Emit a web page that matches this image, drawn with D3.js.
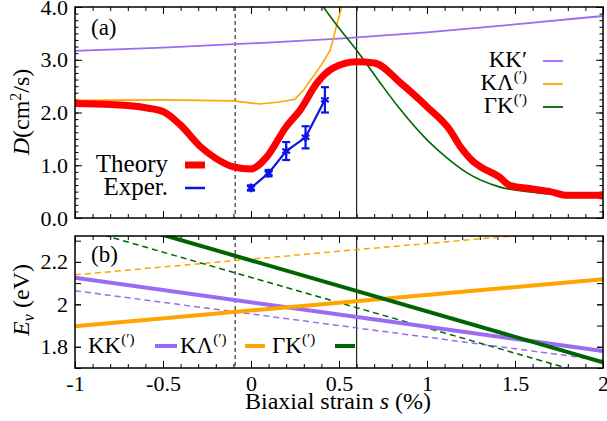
<!DOCTYPE html>
<html><head><meta charset="utf-8">
<script src="https://cdn.jsdelivr.net/npm/d3@7"></script>
<style>
html,body{margin:0;padding:0;background:#fff;}
svg text{font-family:"Liberation Serif","Tinos","Times New Roman","DejaVu Serif","Noto Serif",serif !important;}
</style></head>
<body>
<svg id="chart" width="607" height="421"></svg>
<script>
// ---------------- DATA ----------------
const theoryS = [-1, -0.8, -0.6, -0.5, -0.4, -0.29, -0.2, -0.1, 0, 0.09, 0.2, 0.28, 0.375, 0.466, 0.6, 0.7, 0.85, 1.0, 1.13, 1.19, 1.26, 1.3, 1.41, 1.47, 1.6, 1.7, 1.8, 2.0];
const theoryD = [2.17, 2.15, 2.09, 2.02, 1.76, 1.36, 1.13, 0.97, 0.93, 1.16, 1.73, 2.05, 2.56, 2.84, 2.96, 2.94, 2.56, 2.11, 1.67, 1.35, 1.08, 0.98, 0.78, 0.62, 0.55, 0.5, 0.43, 0.43];

const kkS = [-1, -0.5, 0, 0.5, 1.0, 1.5, 2.0];
const kkD = [3.17, 3.23, 3.31, 3.40, 3.52, 3.67, 3.83];

const klS = [-1, -0.5, -0.1, 0.05, 0.16, 0.25, 0.3, 0.35, 0.4, 0.45, 0.47, 0.49, 0.52];
const klD = [2.23, 2.24, 2.22, 2.16, 2.20, 2.25, 2.43, 2.67, 2.90, 3.18, 3.43, 3.70, 4.05];

const gkS = [0.4, 0.5, 0.6, 0.73, 0.85, 1.0, 1.12, 1.23, 1.41, 1.6, 1.8, 2.0];
const gkD = [4.05, 3.6, 3.18, 2.58, 2.05, 1.48, 1.12, 0.85, 0.59, 0.49, 0.44, 0.42];

const expS = [0, 0.1, 0.2, 0.31, 0.42];
const expD = [0.57, 0.85, 1.27, 1.53, 2.24];
const expErr = [0.05, 0.06, 0.17, 0.21, 0.24];

// panel (b): valley energies
const evS = [-1, 0.5, 2];
const evKK = [2.125, 1.952, 1.78];
const evKKd = [2.064, 1.900, 1.736];
const evKL = [1.897, 2.008, 2.118];
const evKLd = [2.139, 2.250, 2.360];
const evGK = [2.447, 2.087, 1.727];
const evGKd = [2.365, 2.008, 1.651];

const markerStrain = [-0.09, 0.6];   // dashed, solid guide lines

const xTicksMajor = [-1, -0.5, 0, 0.5, 1, 1.5, 2];
const xTickLabels = ["-1", "-0.5", "0", "0.5", "1", "1.5", "2"];
const yaTicks = [0, 1, 2, 3, 4];
const yaTickLabels = ["0.0", "1.0", "2.0", "3.0", "4.0"];
const ybTicks = [1.8, 2.0, 2.2];
const ybTickLabels = ["1.8", "2", "2.2"];

// ---------------- LAYOUT ----------------
const FONT = '"Liberation Serif", Tinos, "Times New Roman", "DejaVu Serif", serif';
const colPurple = "#9b6cf2", colOrange = "#ffa500", colGreen = "#006400", colRed = "#ff0000", colBlue = "#0a14e6";
const svg = d3.select("#chart").attr("font-family", FONT);
const L = 75, R = 603;
const aT = 7, aB = 218, bT = 236, bB = 368;

const x = d3.scaleLinear().domain([-1, 2]).range([L, R]);
const ya = d3.scaleLinear().domain([0, 4]).range([aB, aT]);
const yb = d3.scaleLinear().domain([1.70, 2.322]).range([bB, bT]);

const defs = svg.append("defs");
defs.append("clipPath").attr("id", "clipA").append("rect").attr("x", L).attr("y", aT).attr("width", R - L).attr("height", aB - aT);
defs.append("clipPath").attr("id", "clipB").append("rect").attr("x", L).attr("y", bT).attr("width", R - L).attr("height", bB - bT);

const range = (a, b, st) => d3.range(Math.round(a / st), Math.round(b / st) + 1).map(i => +(i * st).toFixed(4));
const xMinor = range(-1, 2, 0.1);
const yaMinor = range(0, 4, 0.125);
const ybMinor = range(1.7, 2.3, 0.1);

function ticks(g, axisFn, scale, vals, size) {
  g.call(axisFn(scale).tickValues(vals).tickSize(size).tickFormat(""))
   .call(s => s.select(".domain").remove())
   .selectAll("line").attr("stroke", "#000").attr("stroke-width", 1);
}

function panel(y, top, bottom, minorY, majorY, majorYLabels, minorYLen, majorYLen, withXLabels) {
  ticks(svg.append("g").attr("transform", `translate(0,${bottom})`), d3.axisBottom, x, xMinor, -4);
  ticks(svg.append("g").attr("transform", `translate(0,${bottom})`), d3.axisBottom, x, xTicksMajor, -7);
  ticks(svg.append("g").attr("transform", `translate(0,${top})`), d3.axisTop, x, xMinor, -4);
  ticks(svg.append("g").attr("transform", `translate(0,${top})`), d3.axisTop, x, xTicksMajor, -7);
  ticks(svg.append("g").attr("transform", `translate(${L},0)`), d3.axisLeft, y, minorY, -minorYLen);
  ticks(svg.append("g").attr("transform", `translate(${L},0)`), d3.axisLeft, y, majorY, -majorYLen);
  ticks(svg.append("g").attr("transform", `translate(${R},0)`), d3.axisRight, y, minorY, -minorYLen);
  ticks(svg.append("g").attr("transform", `translate(${R},0)`), d3.axisRight, y, majorY, -majorYLen);
  const yl = svg.append("g").attr("transform", `translate(${L},0)`)
    .call(d3.axisLeft(y).tickValues(majorY).tickSize(0).tickPadding(7).tickFormat((d, i) => majorYLabels[i]));
  yl.attr("font-family", FONT).attr("font-size", 22);
  yl.select(".domain").remove();
  yl.selectAll("text").attr("fill", "#000");
  if (withXLabels) {
    const xl = svg.append("g").attr("transform", `translate(0,${bottom})`)
      .call(d3.axisBottom(x).tickValues(xTicksMajor).tickSize(0).tickPadding(7).tickFormat((d, i) => xTickLabels[i]));
    xl.attr("font-family", FONT).attr("font-size", 22);
    xl.select(".domain").remove();
    xl.selectAll("text").attr("fill", "#000");
  }
  svg.append("line").attr("x1", x(markerStrain[0])).attr("x2", x(markerStrain[0])).attr("y1", top).attr("y2", bottom)
    .attr("stroke", "#333").attr("stroke-width", 1.2).attr("stroke-dasharray", "4,3");
  svg.append("line").attr("x1", x(markerStrain[1])).attr("x2", x(markerStrain[1])).attr("y1", top).attr("y2", bottom)
    .attr("stroke", "#222").attr("stroke-width", 1.2);
}

panel(ya, aT, aB, yaMinor, yaTicks, yaTickLabels, 3.5, 7, false);
panel(yb, bT, bB, ybMinor, ybTicks, ybTickLabels, 6, 6, true);

// ---------------- PANEL (a) ----------------
const gA = svg.append("g").attr("clip-path", "url(#clipA)");
const lineA = (curve) => d3.line().x(d => x(d[0])).y(d => ya(d[1])).curve(curve);
const zip = (a, b) => a.map((v, i) => [v, b[i]]);

gA.append("path").datum(zip(kkS, kkD)).attr("d", lineA(d3.curveMonotoneX))
  .attr("fill", "none").attr("stroke", colPurple).attr("stroke-width", 1.8);
gA.append("path").datum(zip(klS, klD)).attr("d", lineA(d3.curveLinear))
  .attr("fill", "none").attr("stroke", colOrange).attr("stroke-width", 1.6);
gA.append("path").datum(zip(gkS, gkD)).attr("d", lineA(d3.curveMonotoneX))
  .attr("fill", "none").attr("stroke", colGreen).attr("stroke-width", 1.6);
gA.append("path").datum(zip(theoryS, theoryD)).attr("d", lineA(d3.curveMonotoneX))
  .attr("fill", "none").attr("stroke", colRed).attr("stroke-width", 7).attr("stroke-linejoin", "round");

gA.append("path").datum(zip(expS, expD)).attr("d", lineA(d3.curveLinear))
  .attr("fill", "none").attr("stroke", colBlue).attr("stroke-width", 2.2);
const eg = gA.append("g").attr("stroke", colBlue).attr("stroke-width", 2.2).attr("fill", "none");
expS.forEach((s, i) => {
  const cx = x(s), y1 = ya(expD[i] + expErr[i]), y2 = ya(expD[i] - expErr[i]);
  eg.append("line").attr("x1", cx).attr("x2", cx).attr("y1", y1).attr("y2", y2);
  eg.append("line").attr("x1", cx - 4).attr("x2", cx + 4).attr("y1", y1).attr("y2", y1);
  eg.append("line").attr("x1", cx - 4).attr("x2", cx + 4).attr("y1", y2).attr("y2", y2);
  eg.append("path").attr("transform", `translate(${cx},${ya(expD[i])})`)
    .attr("d", d3.symbol(d3.symbolAsterisk, 55)());
});

svg.append("rect").attr("x", L).attr("y", aT).attr("width", R - L).attr("height", aB - aT)
  .attr("fill", "none").attr("stroke", "#000").attr("stroke-width", 1.5);

svg.append("text").attr("x", 91).attr("y", 35).attr("font-size", 23).text("(a)");

const legA = [["KK", "′", colPurple, 67, false], ["KΛ", "(′)", colOrange, 90, true], ["ΓK", "(′)", colGreen, 113, true]];
legA.forEach(([t, sup, c, yb0, isSup]) => {
  const tx = svg.append("text").attr("x", 527).attr("y", yb0).attr("text-anchor", "end").attr("font-size", 23);
  tx.append("tspan").text(t);
  if (isSup) tx.append("tspan").attr("dy", -9).attr("font-size", 15).text(sup);
  else tx.append("tspan").text(sup);
  svg.append("line").attr("x1", 543).attr("x2", 563).attr("y1", yb0 - 6).attr("y2", yb0 - 6)
    .attr("stroke", c).attr("stroke-width", 1.8);
});

svg.append("text").attr("x", 168).attr("y", 172).attr("text-anchor", "end").attr("font-size", 25).text("Theory");
svg.append("line").attr("x1", 185).attr("x2", 205).attr("y1", 165).attr("y2", 165).attr("stroke", colRed).attr("stroke-width", 7);
svg.append("text").attr("x", 168).attr("y", 195).attr("text-anchor", "end").attr("font-size", 25).text("Exper.");
svg.append("line").attr("x1", 185).attr("x2", 205).attr("y1", 188).attr("y2", 188).attr("stroke", colBlue).attr("stroke-width", 2.5);

const yla = svg.append("text").attr("transform", "translate(29,112) rotate(-90)").attr("text-anchor", "middle").attr("font-size", 24);
yla.append("tspan").attr("font-style", "italic").text("D");
yla.append("tspan").text("(cm");
yla.append("tspan").attr("dy", -8).attr("font-size", 16).text("2");
yla.append("tspan").attr("dy", 8).text("/s)");

// ---------------- PANEL (b) ----------------
const gB = svg.append("g").attr("clip-path", "url(#clipB)");
const lineB = d3.line().x(d => x(d[0])).y(d => yb(d[1]));
const bSeries = [
  [evKKd, colPurple, true], [evKLd, colOrange, true], [evGKd, colGreen, true],
  [evKK, colPurple, false], [evKL, colOrange, false], [evGK, colGreen, false]
];
bSeries.forEach(([vals, c, dashed]) => {
  gB.append("path").datum(zip(evS, vals)).attr("d", lineB)
    .attr("fill", "none").attr("stroke", c)
    .attr("stroke-width", dashed ? 1.5 : 4)
    .attr("stroke-dasharray", dashed ? "6,4" : null);
});

svg.append("rect").attr("x", L).attr("y", bT).attr("width", R - L).attr("height", bB - bT)
  .attr("fill", "none").attr("stroke", "#000").attr("stroke-width", 1.5);

svg.append("text").attr("x", 91).attr("y", 262).attr("font-size", 23).text("(b)");

const legB = [["KK", 88, 155, 177, colPurple], ["KΛ", 180, 245, 265, colOrange], ["ΓK", 272, 335, 355, colGreen]];
legB.forEach(([t, tx0, l1, l2, c]) => {
  const tx = svg.append("text").attr("x", tx0).attr("y", 353).attr("font-size", 23);
  tx.append("tspan").text(t);
  tx.append("tspan").attr("dy", -9).attr("font-size", 15).text("(′)");
  svg.append("line").attr("x1", l1).attr("x2", l2).attr("y1", 346).attr("y2", 346)
    .attr("stroke", c).attr("stroke-width", 4);
});

const ylb = svg.append("text").attr("transform", "translate(29,300) rotate(-90)").attr("text-anchor", "middle").attr("font-size", 24);
ylb.append("tspan").attr("font-style", "italic").text("E");
ylb.append("tspan").attr("font-style", "italic").attr("font-size", 16).attr("dy", 5).text("v");
ylb.append("tspan").attr("dy", -5).text(" (eV)");

const xlab = svg.append("text").attr("x", 338).attr("y", 409).attr("text-anchor", "middle").attr("font-size", 24);
xlab.append("tspan").text("Biaxial strain ");
xlab.append("tspan").attr("font-style", "italic").text("s");
xlab.append("tspan").text(" (%)");
</script>
</body></html>
